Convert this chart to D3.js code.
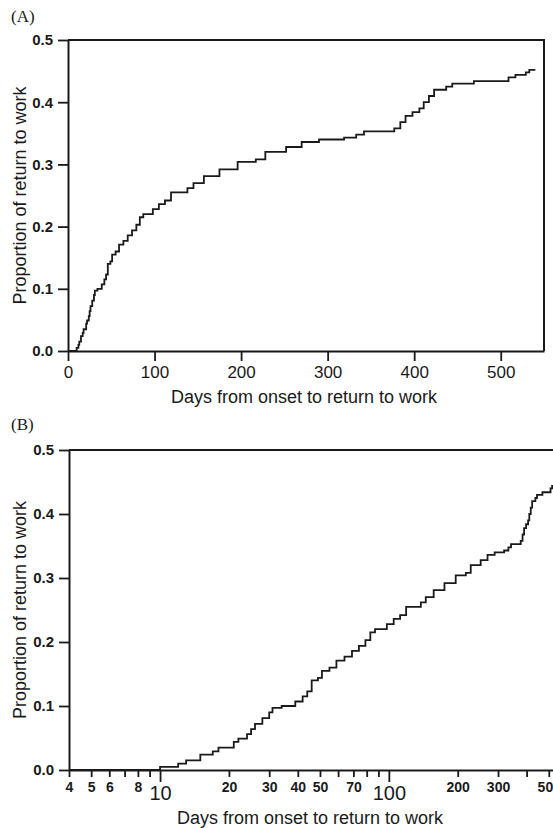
<!DOCTYPE html>
<html>
<head>
<meta charset="utf-8">
<script src="https://cdn.jsdelivr.net/npm/d3@7.9.0/dist/d3.min.js"></script>
<style>
  body { margin: 0; background: #fff; }
  svg { display: block; }
  text { fill: #1a1a1a; }
</style>
</head>
<body>
<div id="chart"></div>
<script>
// step times (days) and cumulative proportion returned to work after each step
const stepDays = [10, 12, 13, 15, 17, 18, 21, 22, 24, 25, 26, 28, 30, 31, 34, 39, 42, 44, 46, 49,
  51, 55, 59, 64, 69, 74, 79, 83, 87, 98, 105, 112, 119, 138, 145, 157, 175, 196, 217, 228,
  252, 270, 290, 319, 333, 342, 377, 384, 390, 398, 406, 411, 417, 423, 437, 444, 469, 509,
  517, 529, 533];
const stepProps = [0.005, 0.010, 0.015, 0.024, 0.029, 0.035, 0.044, 0.049, 0.056, 0.064, 0.072,
  0.081, 0.090, 0.097, 0.100, 0.107, 0.115, 0.123, 0.140, 0.144, 0.155, 0.160, 0.171, 0.177,
  0.186, 0.194, 0.203, 0.215, 0.220, 0.228, 0.236, 0.242, 0.255, 0.262, 0.270, 0.281, 0.292,
  0.304, 0.308, 0.320, 0.328, 0.336, 0.340, 0.343, 0.348, 0.353, 0.358, 0.368, 0.378, 0.384,
  0.390, 0.400, 0.410, 0.420, 0.425, 0.430, 0.434, 0.440, 0.444, 0.448, 0.452];
const lastDay = 540;

const yTicks = [0, 0.1, 0.2, 0.3, 0.4, 0.5];
const xTicksA = [0, 100, 200, 300, 400, 500];
const xTicksB = [4, 5, 6, 7, 8, 9, 10, 20, 30, 40, 50, 60, 70, 80, 90, 100, 200, 300, 400, 500];
const labelsB = { 4: "4", 5: "5", 6: "6", 8: "8", 10: "10", 20: "20", 30: "30", 40: "40",
  50: "50", 70: "70", 100: "100", 200: "200", 300: "300", 500: "500" };
const bigLabelsB = [10, 100];

const xTitle = "Days from onset to return to work";
const yTitle = "Proportion of return to work";

const width = 553;
const height = 828;
const sans = "'Liberation Sans', Arial, sans-serif";
const ink = "#1a1a1a";

const svg = d3.select("#chart")
  .append("svg")
  .attr("width", width)
  .attr("height", height);

function curvePoints(startDay) {
  const pts = [{ day: startDay, p: 0 }];
  stepDays.forEach((d, i) => pts.push({ day: d, p: stepProps[i] }));
  pts.push({ day: lastDay, p: stepProps[stepProps.length - 1] });
  return pts;
}

function styleAxis(g) {
  g.select(".domain").attr("stroke", ink).attr("stroke-width", 2);
  g.selectAll(".tick line").attr("stroke", ink).attr("stroke-width", 1.8);
}

function leftAxis(yScale, x0) {
  const g = svg.append("g")
    .attr("transform", `translate(${x0},0)`)
    .call(d3.axisLeft(yScale).tickValues(yTicks).tickFormat(d3.format(".1f"))
      .tickSize(10).tickSizeOuter(0));
  styleAxis(g);
  g.selectAll(".tick text")
    .attr("x", -15)
    .attr("font-family", sans)
    .attr("font-weight", "bold")
    .attr("font-size", 15)
    .attr("fill", ink);
}

function yLabel(cy) {
  svg.append("text")
    .attr("transform", `translate(26,${cy}) rotate(-90)`)
    .attr("text-anchor", "middle")
    .attr("font-family", sans)
    .attr("font-size", 18)
    .text(yTitle);
}

// ---------- panel A: linear days ----------
const xA = d3.scaleLinear().domain([0, 550]).range([68, 544]);
const yA = d3.scaleLinear().domain([0, 0.5]).range([351, 40]);

svg.append("text")
  .attr("x", 11).attr("y", 22)
  .attr("font-family", "'Liberation Serif', 'Times New Roman', serif")
  .attr("font-size", 17)
  .text("(A)");

// box top and right
svg.append("path")
  .attr("d", `M${xA.range()[0]},${yA(0.5)}H${xA.range()[1]}V${yA(0)}`)
  .attr("fill", "none")
  .attr("stroke", ink)
  .attr("stroke-width", 2);

const gxA = svg.append("g")
  .attr("transform", `translate(0,${yA(0)})`)
  .call(d3.axisBottom(xA).tickValues(xTicksA).tickFormat(d3.format("d"))
    .tickSize(10).tickSizeOuter(0));
styleAxis(gxA);
gxA.selectAll(".tick text")
  .attr("y", 27)
  .attr("dy", null)
  .attr("font-family", sans)
  .attr("font-size", 17)
  .attr("fill", ink);

leftAxis(yA, xA.range()[0]);
yLabel((yA(0) + yA(0.5)) / 2);

svg.append("text")
  .attr("x", 304).attr("y", 403)
  .attr("text-anchor", "middle")
  .attr("font-family", sans)
  .attr("font-size", 18)
  .text(xTitle);

const lineA = d3.line()
  .x(d => xA(d.day))
  .y(d => yA(d.p))
  .curve(d3.curveStepAfter);

svg.append("path")
  .datum(curvePoints(0))
  .attr("d", lineA)
  .attr("fill", "none")
  .attr("stroke", ink)
  .attr("stroke-width", 1.8);

// ---------- panel B: log days ----------
const xB = d3.scaleLog().domain([4, 1000]).range([69, 69 + 228.8 * Math.log10(250)]);
const yB = d3.scaleLinear().domain([0, 0.5]).range([770, 450]);

svg.append("text")
  .attr("x", 11).attr("y", 430)
  .attr("font-family", "'Liberation Serif', 'Times New Roman', serif")
  .attr("font-size", 17)
  .text("(B)");

svg.append("line")
  .attr("x1", xB.range()[0]).attr("x2", xB.range()[1])
  .attr("y1", yB(0.5)).attr("y2", yB(0.5))
  .attr("stroke", ink)
  .attr("stroke-width", 2);

const gxB = svg.append("g")
  .attr("transform", `translate(0,${yB(0)})`)
  .call(d3.axisBottom(xB).tickValues(xTicksB).tickFormat(d => labelsB[d] || "")
    .tickSize(7).tickSizeOuter(0));
styleAxis(gxB);
gxB.selectAll(".tick line")
  .attr("y2", d => bigLabelsB.includes(d) ? 12 : 7);
gxB.selectAll(".tick text")
  .attr("dy", null)
  .attr("y", d => bigLabelsB.includes(d) ? 30 : 22)
  .attr("font-family", d => bigLabelsB.includes(d) ? sans : "'Liberation Sans Narrow', " + sans)
  .attr("font-weight", d => bigLabelsB.includes(d) ? "normal" : "bold")
  .attr("font-size", d => bigLabelsB.includes(d) ? 20 : 14)
  .attr("fill", ink);

leftAxis(yB, xB.range()[0]);
yLabel((yB(0) + yB(0.5)) / 2);

svg.append("text")
  .attr("x", 310).attr("y", 824)
  .attr("text-anchor", "middle")
  .attr("font-family", sans)
  .attr("font-size", 18)
  .text(xTitle);

const lineB = d3.line()
  .x(d => xB(d.day))
  .y(d => yB(d.p))
  .curve(d3.curveStepAfter);

svg.append("path")
  .datum(curvePoints(4))
  .attr("d", lineB)
  .attr("fill", "none")
  .attr("stroke", ink)
  .attr("stroke-width", 1.8);
</script>
</body>
</html>
